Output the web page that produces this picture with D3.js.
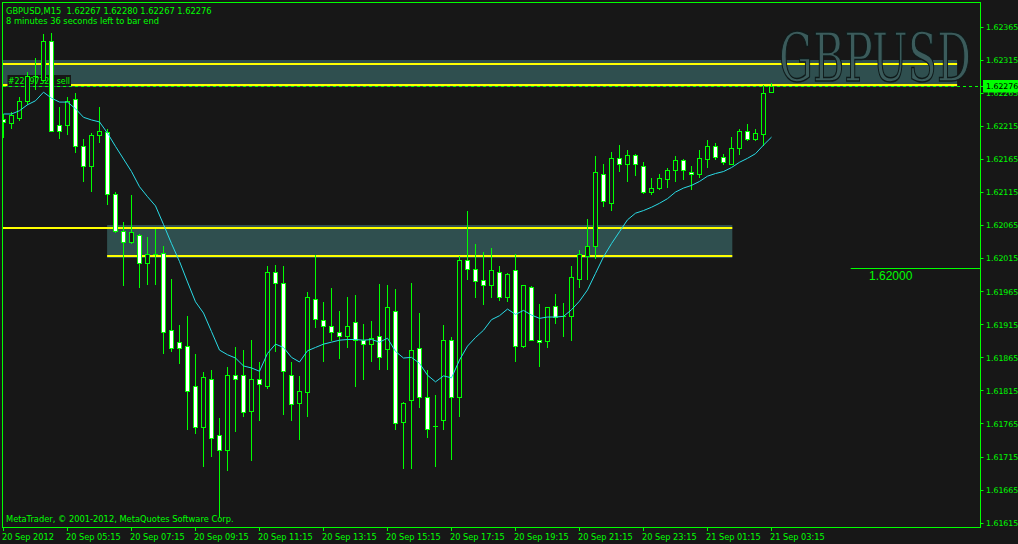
<!DOCTYPE html>
<html><head><meta charset="utf-8">
<script src="https://cdn.jsdelivr.net/npm/d3@7"></script>
<style>html,body{margin:0;padding:0;background:#171717;overflow:hidden}</style>
</head><body><svg id="c" width="1018" height="544"></svg>
<script>
const symbol = "GBPUSD,M15";
const lastQuote = [1.62267, 1.62280, 1.62267, 1.62276];
const timerText = "8 minutes 36 seconds left to bar end";
const copyrightText = "MetaTrader, \u00a9 2001-2012, MetaQuotes Software Corp.";
const watermark = "GBPUSD";
const orderLabel = "#22897321 sell";

const openPrice = [1.62225,1.62220,1.62227,1.62252,1.62291,1.62285,1.62343,1.62216,1.62216,1.62255,
1.62184,1.62154,1.62201,1.62206,1.62112,1.62056,1.62040,1.62050,1.62008,1.62022,
1.62023,1.61906,1.61888,1.61882,1.61821,1.61759,1.61832,1.61747,1.61725,1.61839,
1.61839,1.61784,1.61832,1.61822,1.61994,1.61977,1.61839,1.61796,1.61813,1.61953,
1.61921,1.61913,1.61904,1.61897,1.61918,1.61891,1.61885,1.61898,1.61878,1.61935,
1.61767,1.61800,1.61879,1.61805,1.61761,1.61770,1.61891,1.61805,1.62012,1.61998,
1.61982,1.61975,1.61994,1.61957,1.61997,1.61882,1.61972,1.61891,1.61889,1.61942,
1.61927,1.61928,1.61983,1.62019,1.62033,1.62142,1.62099,1.62166,1.62157,1.62171,
1.62154,1.62115,1.62121,1.62134,1.62148,1.62163,1.62146,1.62142,1.62165,1.62184,
1.62168,1.62158,1.62181,1.62207,1.62195,1.62202,1.62267];
const highPrice = [1.62233,1.62236,1.62258,1.62296,1.62318,1.62354,1.62355,1.62243,1.62258,1.62265,
1.62195,1.62204,1.62243,1.62211,1.62115,1.62070,1.62110,1.62052,1.62047,1.62059,
1.62033,1.61983,1.61914,1.61928,1.61870,1.61843,1.61846,1.61773,1.61850,1.61881,
1.61876,1.61891,1.61858,1.62003,1.62005,1.62003,1.61858,1.61837,1.61964,1.62020,
1.61949,1.61970,1.61935,1.61956,1.61959,1.61915,1.61920,1.61976,1.61974,1.61968,
1.61797,1.61977,1.61932,1.61846,1.61808,1.61914,1.61896,1.62018,1.62086,1.62036,
1.62024,1.62030,1.62003,1.61992,1.62021,1.61975,1.61973,1.61945,1.61941,1.61961,
1.61947,1.62003,1.62028,1.62074,1.62169,1.62157,1.62175,1.62186,1.62179,1.62172,
1.62160,1.62136,1.62142,1.62152,1.62169,1.62165,1.62155,1.62178,1.62193,1.62189,
1.62172,1.62198,1.62210,1.62218,1.62210,1.62277,1.62280];
const lowPrice = [1.62198,1.62212,1.62224,1.62248,1.62271,1.62284,1.62208,1.62197,1.62203,1.62176,
1.62131,1.62117,1.62191,1.62097,1.62055,1.61974,1.62038,1.61972,1.61976,1.61976,
1.61871,1.61874,1.61857,1.61756,1.61751,1.61700,1.61716,1.61625,1.61694,1.61753,
1.61777,1.61710,1.61771,1.61819,1.61875,1.61780,1.61771,1.61741,1.61777,1.61911,
1.61860,1.61892,1.61864,1.61880,1.61822,1.61833,1.61860,1.61848,1.61848,1.61756,
1.61698,1.61697,1.61790,1.61745,1.61700,1.61756,1.61712,1.61777,1.61983,1.61957,
1.61946,1.61957,1.61951,1.61950,1.61860,1.61880,1.61891,1.61852,1.61880,1.61917,
1.61898,1.61892,1.61972,1.61984,1.62016,1.62094,1.62088,1.62147,1.62131,1.62141,
1.62113,1.62112,1.62120,1.62122,1.62131,1.62134,1.62120,1.62138,1.62153,1.62165,
1.62157,1.62157,1.62172,1.62193,1.62193,1.62186,1.62267];
const closePrice = [1.62221,1.62231,1.62253,1.62291,1.62291,1.62344,1.62208,1.62207,1.62253,1.62184,
1.62155,1.62201,1.62207,1.62112,1.62056,1.62039,1.62054,1.62007,1.62021,1.62022,
1.61904,1.61879,1.61879,1.61814,1.61760,1.61835,1.61743,1.61725,1.61839,1.61832,
1.61783,1.61832,1.61825,1.61994,1.61978,1.61844,1.61794,1.61814,1.61956,1.61923,
1.61913,1.61904,1.61897,1.61912,1.61892,1.61885,1.61894,1.61865,1.61941,1.61765,
1.61796,1.61876,1.61805,1.61756,1.61761,1.61892,1.61805,1.62012,1.61998,1.61980,
1.61974,1.61997,1.61956,1.61991,1.61882,1.61974,1.61891,1.61888,1.61941,1.61926,
1.61927,1.61986,1.62021,1.62034,1.62145,1.62101,1.62166,1.62157,1.62171,1.62157,
1.62115,1.62121,1.62136,1.62148,1.62163,1.62148,1.62142,1.62166,1.62184,1.62168,
1.62160,1.62181,1.62208,1.62195,1.62204,1.62264,1.62276];
const maValues = [1.62233,1.62233,1.62238,1.62247,1.62253,1.62266,1.62257,1.62251,1.62251,1.62241,
1.62228,1.62224,1.62221,1.62204,1.62184,1.62165,1.62146,1.62123,1.62108,1.62094,
1.62066,1.62037,1.62010,1.61979,1.61949,1.61932,1.61904,1.61876,1.61869,1.61864,
1.61852,1.61849,1.61844,1.61871,1.61885,1.61880,1.61865,1.61858,1.61875,1.61880,
1.61885,1.61888,1.61891,1.61892,1.61892,1.61891,1.61892,1.61888,1.61894,1.61874,
1.61864,1.61865,1.61856,1.61838,1.61828,1.61837,1.61834,1.61861,1.61882,1.61895,
1.61906,1.61922,1.61928,1.61938,1.61930,1.61936,1.61929,1.61924,1.61926,1.61926,
1.61927,1.61937,1.61950,1.61967,1.61992,1.62017,1.62037,1.62055,1.62073,1.62083,
1.62087,1.62092,1.62098,1.62105,1.62115,1.62121,1.62125,1.62131,1.62139,1.62143,
1.62146,1.62152,1.62160,1.62166,1.62173,1.62186,1.62198];

const xTickLabels = ["20 Sep 2012","20 Sep 05:15","20 Sep 07:15","20 Sep 09:15","20 Sep 11:15","20 Sep 13:15","20 Sep 15:15","20 Sep 17:15","20 Sep 19:15","20 Sep 21:15","20 Sep 23:15","21 Sep 01:15","21 Sep 03:15"];
const xTickBars = [0,8,16,24,32,40,48,56,64,72,80,88,96];
const yTickValues = [1.62365,1.62315,1.62265,1.62215,1.62165,1.62115,1.62065,1.62015,1.61965,1.61915,1.61865,1.61815,1.61765,1.61715,1.61665,1.61615];
const yTickLabels = ["1.62365","1.62315","1.62265","1.62215","1.62165","1.62115","1.62065","1.62015","1.61965","1.61915","1.61865","1.61815","1.61765","1.61715","1.61665","1.61615"];

// zones: [fromBar, toBar] and [topPrice, bottomPrice]
const zoneBars = [[-0.1, 119.2], [12.95, 91.1]];
const zonePrices = [[1.62315, 1.62274], [1.62065, 1.62015]];
// yellow lines: [fromBar, toBar] and price
const yellowBars = [[-0.1, 119.2], [-0.1, 119.2], [-0.1, 91.1], [12.95, 91.1]];
const yellowPrices = [1.62309, 1.62277, 1.62060, 1.62019];
const orderPrice = 1.62275;
const levelPrice = 1.62000;
const levelLabel = "1.62000";
const levelFromBar = 105.9;
const bidLabel = "1.62276";

const W = 1018, H = 544;
const BG = "#171717", FG = "#00ff00";
const frameL = 2.5, frameR = 980.5, frameT = 2.5, frameB = 527.5;
const svg = d3.select("#c");
svg.append("rect").attr("width", W).attr("height", H).attr("fill", BG);

const x = d3.scaleLinear().domain([0, 96]).range([3.5, 771.5]);
const y = d3.scaleLinear().domain([1.61615, 1.62365]).range([522.7, 26.7]);
const py = v => Math.round(y(v)) + 0.5;

svg.append("defs").append("clipPath").attr("id", "clip")
  .append("rect").attr("x", 3).attr("y", 3).attr("width", frameR - 3).attr("height", frameB - 3);
const g = svg.append("g").attr("clip-path", "url(#clip)");

// zones
g.selectAll("rect.zone").data(zoneBars).join("rect").attr("class", "zone")
  .attr("x", d => x(d[0])).attr("width", d => x(d[1]) - x(d[0]))
  .attr("y", (d, i) => Math.round(y(zonePrices[i][0])))
  .attr("height", (d, i) => Math.round(y(zonePrices[i][1])) - Math.round(y(zonePrices[i][0])))
  .attr("fill", "#2f4f4f");

// watermark (drawn outside the clip so its box stays within the plot)
svg.append("text").attr("transform", "translate(779,81) scale(1,1.5)").text(watermark)
  .attr("font-family", "DejaVu Serif").attr("font-size", 45)
  .attr("textLength", 192).attr("lengthAdjust", "spacingAndGlyphs")
  .attr("fill", "#3b5b5b").attr("stroke", "#0f1a1a").attr("stroke-width", 1);

// yellow lines
g.selectAll("line.yl").data(yellowBars).join("line").attr("class", "yl")
  .attr("x1", d => x(d[0])).attr("x2", d => x(d[1]))
  .attr("y1", (d, i) => Math.round(y(yellowPrices[i]))).attr("y2", (d, i) => Math.round(y(yellowPrices[i])))
  .attr("stroke", "#ffff00").attr("stroke-width", 2);

// order line (dashed)
g.append("line").attr("x1", 3).attr("x2", 980).attr("y1", py(orderPrice)).attr("y2", py(orderPrice))
  .attr("stroke", FG).attr("stroke-dasharray", "3,3");
// order label
g.append("rect").attr("x", 7.5).attr("y", 75).attr("width", 63.5).attr("height", 11).attr("fill", BG);
g.append("text").attr("x", 8).attr("y", 84).text(orderLabel)
  .attr("font-family", "DejaVu Sans").attr("font-size", 8.4).attr("fill", FG)
  .attr("textLength", 62).attr("lengthAdjust", "spacingAndGlyphs");

// level 1.62000
g.append("line").attr("x1", x(levelFromBar)).attr("x2", frameR).attr("y1", py(levelPrice)).attr("y2", py(levelPrice))
  .attr("stroke", FG);
svg.append("text").attr("x", 869).attr("y", 280).text(levelLabel)
  .attr("font-family", "Liberation Sans").attr("font-size", 12).attr("fill", FG);

// candles
const idx = d3.range(openPrice.length);
const cg = g.append("g");
cg.selectAll("line.wick").data(idx).join("line").attr("class", "wick")
  .attr("x1", i => x(i)).attr("x2", i => x(i))
  .attr("y1", i => Math.round(y(highPrice[i]))).attr("y2", i => Math.round(y(lowPrice[i])) + 1)
  .attr("stroke", FG);
idx.forEach(i => {
  const yo = py(openPrice[i]), yc = py(closePrice[i]);
  const cx = x(i);
  if (Math.abs(yo - yc) < 1) {
    cg.append("line").attr("x1", cx - 2.5).attr("x2", cx + 2.5).attr("y1", yo).attr("y2", yo).attr("stroke", FG);
  } else {
    const bear = closePrice[i] < openPrice[i];
    cg.append("rect").attr("x", cx - 2).attr("width", 4)
      .attr("y", Math.min(yo, yc)).attr("height", Math.abs(yo - yc))
      .attr("fill", bear ? "#ffffff" : BG).attr("stroke", FG).attr("stroke-width", 1);
  }
});

// moving average
g.append("path").datum(idx)
  .attr("d", d3.line().x(i => x(i)).y(i => y(maValues[i])))
  .attr("fill", "none").attr("stroke", "#2adbe6").attr("stroke-width", 1);

// frame
svg.append("rect").attr("x", frameL).attr("y", frameT).attr("width", frameR - frameL).attr("height", frameB - frameT)
  .attr("fill", "none").attr("stroke", FG);

// y axis
const ya = svg.append("g");
yTickValues.forEach((v, i) => {
  const yy = Math.round(y(v)) + 0.5;
  ya.append("line").attr("x1", frameR).attr("x2", frameR + 3).attr("y1", yy).attr("y2", yy).attr("stroke", FG);
  ya.append("text").attr("x", 986).attr("y", y(v) + 3.3).text(yTickLabels[i])
    .attr("font-family", "DejaVu Sans").attr("font-size", 7.8).attr("fill", FG);
});
// bid box
const by = y(lastQuote[3]);
svg.append("line").attr("x1", frameR).attr("x2", 983).attr("y1", Math.round(by) + 0.5).attr("y2", Math.round(by) + 0.5).attr("stroke", FG);
svg.append("rect").attr("x", 983).attr("y", Math.round(by) - 6).attr("width", 35).attr("height", 12.5).attr("fill", FG);
svg.append("text").attr("x", 986).attr("y", by + 3.3).text(bidLabel)
  .attr("font-family", "DejaVu Sans").attr("font-size", 7.8).attr("fill", "#000");

// x axis
xTickBars.forEach((b, i) => {
  const xx = x(b);
  svg.append("line").attr("x1", xx).attr("x2", xx).attr("y1", frameB).attr("y2", frameB + 3.5).attr("stroke", FG);
  svg.append("text").attr("x", i === 0 ? 2 : xx - 1.5).attr("y", 540).text(xTickLabels[i])
    .attr("font-family", "DejaVu Sans").attr("font-size", 8.2).attr("fill", FG);
});

// header
svg.append("text").attr("x", 6).attr("y", 13.5)
  .text(symbol + "\u00a0\u00a0" + lastQuote.map(d => d.toFixed(5)).join(" "))
  .attr("font-family", "DejaVu Sans").attr("font-size", 8.3).attr("fill", FG);
svg.append("text").attr("x", 6).attr("y", 24).text(timerText)
  .attr("font-family", "DejaVu Sans").attr("font-size", 8.3).attr("fill", FG);
svg.append("text").attr("x", 6).attr("y", 522).text(copyrightText)
  .attr("font-family", "DejaVu Sans").attr("font-size", 8.3).attr("fill", FG);
</script></body></html>
